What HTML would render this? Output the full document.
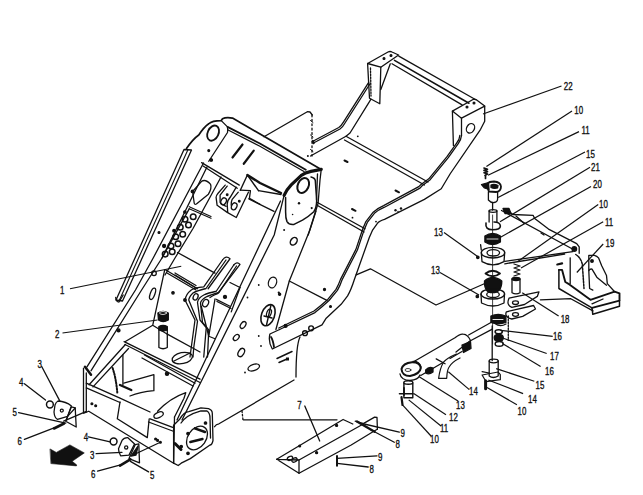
<!DOCTYPE html>
<html><head><meta charset="utf-8">
<style>
html,body{margin:0;padding:0;background:#fff;}
body{width:643px;height:495px;overflow:hidden;}
svg{display:block;}
text{font-family:"Liberation Sans",sans-serif;font-size:11px;fill:#111;}
</style></head><body>
<svg width="643" height="495" viewBox="0 0 643 495">
<g fill="none" stroke="#111" stroke-width="1.3" stroke-linejoin="round" stroke-linecap="round">

<!-- ===== UPPER FRAME (22) ===== -->
<path d="M367.6,63.5 L388,52 Q390.1,51 392,52 L398.6,55 L380.8,67.2 Z"/>
<path d="M367.6,63.5 L369.5,98.2 L379.8,103.8 L380.8,67.2"/>
<path d="M370.5,68 L371,96" stroke-dasharray="1.5 1.5"/>
<path d="M390.3,63.8 L380.8,89.5"/>
<circle cx="384" cy="58.5" r="0.9" fill="#111"/><circle cx="391" cy="55.5" r="0.9" fill="#111"/>
<path d="M398.8,56.1 L475.8,99.7 M392,63.8 L462.1,104.9"/>
<path d="M394.5,60.4 L469,103.2" stroke-width="1.6"/>
<path d="M452.4,111.1 L473,99.5 Q474.6,99 476,99.5 L484.7,106.1 L461.5,118.2 Z"/>
<path d="M452.4,111.1 L453.4,145.4 M461.5,118.2 L461.5,135.4"/>
<circle cx="467" cy="107" r="0.9" fill="#111"/><circle cx="474" cy="103" r="0.9" fill="#111"/>
<ellipse cx="470.5" cy="128.3" rx="3.8" ry="5" transform="rotate(30 470.5 128.3)" stroke-width="1.3"/>
<!-- upper frame left arm -->
<path d="M368.7,82.3 L343.6,121.8 Q341,126 338.8,127.5 L312.9,141.2"/>
<path d="M370.2,83.5 L345,123 Q342.5,127.5 340,129 L313.5,143"/>
<path d="M371,99.2 L350,133 L346,136.3 L310.5,156"/>
<path d="M312.9,141.2 L313.5,143" stroke-width="2.5"/>
<path d="M264,136.7 L307.3,111.7 L310,112 L312.3,115"/>
<path d="M312,115 L312,156" stroke-dasharray="1.8 2.6" stroke-width="1.3"/>
<!-- upper frame right arm (S) -->
<path d="M484.7,106.1 L484.7,121.2 L480.6,129.3 L450.2,173.75 L441.25,188.75 L424.4,199.4 L384.5,219.3 Q379,221 377.4,223.4 L372.4,230.4 L369.3,237.5 L354.2,280 Q351,290 347.6,295.9 L341.1,304.3 L326.2,318.2 L322,324.8 L272.3,349 Q268,342 269.9,334 L279.6,329.5"/>
<path d="M461.5,135.4 Q461,140 458.4,143.4 L448.3,157.6 L430.2,179.7 L422.1,185.8 L420,188.1 L384.5,207.2 Q378,210 374.4,213.3 L367.3,222.4 L364.3,229.4 L357.4,250 L342,280 Q340,286 337.4,290.3 L329,300.5 Q322,307 315,312.6 L279.6,329.5"/>
<path d="M459.8,135.5 Q459.5,140 456.8,142.8 L446.8,156.8 L428.8,178.8 L420.7,184.8 L418.8,186.6 L383.6,205.6 Q377,208.5 373.2,212.2 L365.9,221.6 L362.8,228.8 L355.9,249.4 L340.5,279.4 Q338.5,285 336,289.4 L327.8,299.4 Q321,305.5 314,311 L278.8,328"/>
<!-- floor -->
<path d="M346,136.3 L428,182 M344.5,140 L424.5,185"/>
<path d="M317.5,202.5 L365,228.75 M317.5,205.5 L364,232" stroke-width="1.4"/>
<path d="M344.5,160.5 l3,1.5 M395.5,190.5 l3.5,1.8 M352,209 l3.5,1.8" stroke-width="2"/>
<g fill="#111" stroke="none"><circle cx="352.5" cy="217.7" r="0.9"/><circle cx="395.5" cy="210.3" r="1.2"/><circle cx="401" cy="208.5" r="1.2"/><circle cx="398" cy="211.5" r="0.7"/><circle cx="376" cy="221.6" r="0.9"/><circle cx="357.8" cy="136.3" r="0.9"/><circle cx="307.9" cy="156" r="1"/></g>
<path d="M310.5,120.5 l2.5,2 M310.5,135 l2.5,2 M310.5,149.5 l2.5,2" stroke-width="1"/>

<!-- ===== MAIN FRAME ===== -->
<!-- left rail -->
<path d="M184,149.5 L116,300 L122.5,301 L191.5,150 Z"/>
<path d="M187.8,150 L119.2,300.5" stroke-width="1.1"/>
<circle cx="159" cy="232.5" r="0.9" fill="#111"/>
<!-- top-left boss contour -->
<path d="M186.5,148.5 Q193,139 198.75,135 Q204,127 208.75,123.75 Q212,120.6 221.25,120.6 L222.5,118.75 Q226,117 232.5,118.1 L321.25,169.4" stroke-width="1.7"/>
<ellipse cx="213.1" cy="133.1" rx="5.4" ry="8" transform="rotate(25 213.1 133.1)" stroke-width="1.8"/>
<path d="M221.25,120.6 L227.5,126.9 Q228,131 227.5,132.5 L208.75,161.25"/>
<path d="M227.5,126.9 L259.9,143.5 L305.8,169.8" stroke-width="1.8"/>
<path d="M228.1,130 L259.9,146.25 L304,171.5"/>
<path d="M232.5,157.5 L242.5,144.5 M243.75,163.75 L253.75,150.6" stroke-width="2.2"/>
<circle cx="208.75" cy="150.6" r="0.9" fill="#111"/><circle cx="211.25" cy="160" r="1.2" fill="#111"/>
<!-- right boss plate -->
<path d="M284.1,195.4 Q287,189 291.2,184.8 L301.1,175.6 Q305,172.5 311,171.4 L321.25,169.4" stroke-width="3.2"/>
<path d="M321.25,169.4 L320,180 L318.1,203.2 L308.2,235"/>
<path d="M317.5,174 L316.5,200"/>
<path d="M311,177 Q315,178 315.3,180.6 L316.7,200.4 Q316.5,208 313.8,211.7 Q308,217 302.5,220.2 L294,224.4 Q289,225 287,221.6 Q285.5,218 285.6,211.7 L285.6,197.5" stroke-width="1.5"/>
<ellipse cx="303.2" cy="185.5" rx="5.4" ry="7.8" transform="rotate(25 303.2 185.5)" stroke-width="2"/>
<g fill="#111" stroke="none"><circle cx="299" cy="203.2" r="1.2"/><circle cx="311.7" cy="208.1" r="1.1"/><circle cx="292.6" cy="214.5" r="0.8"/><circle cx="284.1" cy="230" r="1"/></g>

<!-- right plate edges -->
<path d="M280.5,201 L177,420 M284.1,195.4 L274.2,235 L182,420"/>
<path d="M316,211 L309.9,230 L289.3,281 L275.9,329.5"/>
<!-- left plate -->
<path d="M203.5,163 L153.2,258 L135.5,290 L87.1,366.7 M207,167 L162,258 L141.6,290 L91.1,370.7"/>
<!-- cross member under top plate -->
<path d="M201.6,162.6 L239.3,185.1 M203.1,166 L237.3,188.2"/>
<!-- perforated plate -->
<path d="M221,177 L193,228.5 L175,258 L165,275 M189.2,208.9 L162,258"/>
<g stroke-width="1.5">
<circle cx="193.2" cy="216.8" r="2.8"/><circle cx="188.5" cy="225" r="2.8"/><circle cx="182.7" cy="234.3" r="2.8"/><circle cx="178" cy="243.7" r="2.8"/><circle cx="172.2" cy="251.8" r="2.8"/><circle cx="185" cy="219.2" r="2.8"/><circle cx="180.3" cy="227.3" r="2.8"/><circle cx="175.7" cy="236.7" r="2.8"/><circle cx="171" cy="246" r="2.8"/><circle cx="165.2" cy="254.1" r="2.8"/>
</g>
<circle cx="184.9" cy="212" r="1.2" fill="#111"/><circle cx="174" cy="230.7" r="1.2" fill="#111"/><circle cx="164.1" cy="246" r="1.5" fill="#111"/><circle cx="211" cy="159.8" r="1" fill="#111"/>
<!-- kidney bracket -->
<path d="M192.6,191.5 L201.8,181.1 Q206,179 210.6,184.4 Q212,188 208.4,194.2 L196.4,204 Q194.5,205 194.2,203 Z"/>
<path d="M258.5,190.7 L281,194.5"/>
<circle cx="192.5" cy="191.4" r="1.3" fill="#111"/>
<path d="M189.2,206.7 L211,216.5 M189.2,208.7 L211,218.3" stroke-width="1.2"/>
<!-- clevis ears -->
<path d="M225.2,185.1 L218.1,193.2 Q216,196 216.1,197.3 L217.1,205.3 L227.2,212.4 L236.3,217.5 L248.4,192.2"/>
<path d="M227.2,186.1 L220.1,195.2 L220.1,202.3 Q222,205 226.2,206.3"/>
<path d="M236.3,187.2 L230.2,197.3 Q227,201 227.2,204.3 L227.7,212.4"/>
<path d="M238.3,192.2 L232.2,199.3 Q231,202 231.2,205.3"/>
<ellipse cx="223.6" cy="201.3" rx="2.6" ry="3.6" transform="rotate(25 223.6 201.3)"/>
<ellipse cx="234.2" cy="206.3" rx="2.6" ry="3.6" transform="rotate(25 234.2 206.3)"/>
<circle cx="227.2" cy="194.7" r="0.8" fill="#111"/><circle cx="239.3" cy="201.3" r="0.8" fill="#111"/>
<path d="M240.3,190.2 L250.4,190.7"/>
<!-- wedge -->
<path d="M240.3,190.2 L247.4,175 L258.5,190.7" stroke-width="1.4"/>
<path d="M247.4,175 L260,183 L281,193" stroke-width="2.4"/>
<path d="M250.4,191.2 L249.4,198.3 L260,204.3"/>
<path d="M248.8,198.8 L274,211.4"/>
<!-- cross beam inside -->
<path d="M165.4,269.8 L196.5,288.2 M167,273 L196,290"/>
<circle cx="154" cy="273.3" r="2.3"/>
<!-- fork arms -->
<path d="M222.5,260 Q226,255 230,258.75 L208.1,288.75"/>
<path d="M222.5,260 L203.75,286.9 Q194,288 191.25,290 Q186,294 185,300 L195,320 L191.25,347.5 L190,357"/>
<path d="M226,260 L206,288.5 Q196,291 193,293 Q189,297 188.75,300 L197.5,321.25 L193.75,347.5 L193,357"/>
<path d="M233.75,265 Q237,261 240,264.4 L217.5,293.75 Q212,296 210,297.5"/>
<path d="M233.75,265 L216.25,291.25 Q208,293 203.75,295 Q198,298 197.5,302.5 L200,320 L206.25,327.5 L203.75,357"/>
<path d="M236.5,266 L219,292.5 Q210,295 206,297 Q201,300 200.5,303 L202.5,322.5 L208.75,330 L207.5,357"/>
<ellipse cx="195.6" cy="296.9" rx="2.3" ry="3.3" transform="rotate(25 195.6 296.9)"/>
<ellipse cx="205.6" cy="303.1" rx="2.8" ry="3.8" transform="rotate(25 205.6 303.1)"/>
<path d="M215,299 L208.75,336.25 L215,338.75 M201.25,306.25 L208.75,336.25"/>
<path d="M177.5,252.5 L215,273.1 M230,282.5 L240,287.5 M175,275 L197.5,288.75 M175,273 L196,285.5"/>
<path d="M216.25,299.4 L230,306.25 M217,301.5 L231,308.5" stroke-width="1.3"/>
<path d="M240,287.5 L231.25,311.9"/>
<circle cx="225" cy="296.9" r="1.5" fill="#111"/><circle cx="185" cy="300" r="1.3" fill="#111"/>
<ellipse cx="243.1" cy="325" rx="2.3" ry="3.8" transform="rotate(35 243.1 325)"/>
<ellipse cx="236.25" cy="337.5" rx="2.3" ry="3.5" transform="rotate(45 236.25 337.5)"/>
<ellipse cx="241.25" cy="352.5" rx="2.8" ry="4.5" transform="rotate(30 241.25 352.5)"/>
<!-- holes on right plate -->
<ellipse cx="293.75" cy="241.25" rx="3" ry="4.2" transform="rotate(35 293.75 241.25)" stroke-width="1.5"/>
<ellipse cx="272.5" cy="282.5" rx="4" ry="5.5" transform="rotate(20 272.5 282.5)"/>
<ellipse cx="268" cy="315.2" rx="6.5" ry="11" transform="rotate(20 268 315.2)" stroke-width="1.6"/>
<path d="M271,305 L266.5,325 M264,316 L272,318" stroke-width="1.4"/>
<ellipse cx="269" cy="313" rx="2.2" ry="4" transform="rotate(20 269 313)" stroke-width="1.2"/>
<ellipse cx="253.75" cy="367.5" rx="6" ry="3" transform="rotate(-20 253.75 367.5)"/>
<!-- bracket bar -->
<path d="M300,337 Q296,345 296,377"/>
<path d="M277,358.5 L292,351.5 M279,362.5 L287,359" stroke-width="1.5"/>
<rect x="286" y="357.5" width="3" height="3" fill="#111" stroke="none"/>
<g fill="#111" stroke="none"><circle cx="258.75" cy="285" r="0.9"/><circle cx="247.5" cy="297.5" r="0.9"/><circle cx="258.75" cy="336" r="0.9"/><circle cx="261" cy="346" r="0.9"/><circle cx="245" cy="372.5" r="0.9"/><circle cx="278.75" cy="292.5" r="1.1"/></g>
<circle cx="305" cy="333.2" r="2.4" stroke-width="1.4"/><circle cx="311.1" cy="328.3" r="2.4" stroke-width="1.4"/>
<path d="M271,337 Q273,340 274,347" stroke-width="1.8"/>
<path d="M289.3,281 L326.9,300.4"/>
<circle cx="324.5" cy="289.5" r="1" fill="#111"/><circle cx="279.6" cy="294.3" r="1.1" fill="#111"/><circle cx="285.6" cy="325.9" r="1.4" fill="#111"/><circle cx="330.5" cy="306.5" r="0.9" fill="#111"/>

<!-- lower box -->
<path d="M115.7,297.5 Q116,302 119,302 L123.2,295"/>
<circle cx="118.5" cy="330.4" r="1.5" fill="#111"/>
<path d="M125.4,344.5 L89.1,384.8 M128.5,348.5 L93,386.9"/>
<path d="M85,366.7 L91,374.7" stroke-width="2.5"/>
<path d="M164.7,269.8 L152.7,325.3 L125.4,341.5 M152.7,325.3 L167,334"/>
<!-- part 2 -->
<path d="M157.9,313 L158.5,320 Q163,323 168.3,320 L168.3,313 Q163,310 157.9,313 Z" fill="#111"/>
<ellipse cx="163" cy="313" rx="3.5" ry="1.5" stroke="#fff" stroke-width="0.8"/>
<path d="M158.9,328 L158.9,347.5 Q163,350 167.3,347.5 L167.3,328" />
<path d="M158.9,326.6 Q163,324 167.3,326.6 L167.3,330 Q163,332 158.9,330 Z" fill="#111"/>
<!-- platform -->
<path d="M124.1,341.6 L200,379.2 M125,344.5 L200,382.5"/>
<path d="M167.3,334.1 L200,352"/>
<ellipse cx="182.3" cy="358.1" rx="10.3" ry="5.5" transform="rotate(-12 182.3 358.1)"/>
<path d="M174,361 L190,353"/>
<circle cx="167" cy="373.8" r="1.6" fill="#111"/><circle cx="173" cy="292.8" r="1.2" fill="#111"/>
<ellipse cx="152.6" cy="293.8" rx="2.3" ry="6" transform="rotate(20 152.6 293.8)"/>
<!-- box -->
<path d="M83.5,368.1 L83.5,413.2 M86.3,373 L86.3,412"/>
<path d="M86.3,383.2 L120,398.2 L150,412 M86.3,387.9 L120,402.5"/>
<path d="M150.1,418.8 L172.7,427.3 M148.5,422 L172.7,431"/>
<path d="M120,402 L117.3,418.8 L147.3,437.6 L149.2,418.8"/>
<path d="M84.4,413 L88.75,411.25 L173.6,463.2"/>
<path d="M122.9,355 L122.9,385"/>
<path d="M112.6,368 Q116,378 117.3,392.6" stroke-dasharray="1.6 1.4" stroke-width="2"/>
<path d="M123.8,383.2 L153.9,374.7 L153.9,390.7 Q140,392 130,396"/>
<path d="M120,385 L131.3,390" stroke-width="2.4"/>
<path d="M157.6,411.3 Q170,398 185.8,392.6 L184,398.2 L174.5,417"/>
<ellipse cx="158.6" cy="415" rx="5" ry="2.6" transform="rotate(-25 158.6 415)"/>
<path d="M144.5,355 L195,383.2 M142,358 L193,386"/>
<path d="M174.5,417 L173.6,463"/>
<circle cx="91.9" cy="403.8" r="0.9" fill="#111"/><circle cx="95.7" cy="405.7" r="0.9" fill="#111"/>
<circle cx="157.6" cy="440.4" r="0.9" fill="#111"/><circle cx="160.4" cy="442.3" r="0.9" fill="#111"/>
<!-- rear boss plate -->
<path d="M179.7,419.2 Q184,412 188.8,411.7 L200.9,407.9 L208.5,408.6 Q212.3,410 212.3,413.2 L213,440.5 Q212,445 210,445 L190.3,458.6 L181.2,463.2 L178.2,465.5 L173.6,463.2 L173.6,425.3 Z" stroke-width="1.3"/>
<path d="M181,423 Q186,415 200.9,410.8 L207,411 Q210,413 210,418 L210.5,438"/>
<ellipse cx="197" cy="438" rx="9" ry="13" transform="rotate(35 197 438)"/>
<path d="M194.8,428.3 L205,432 M190.3,442 L202.5,439" stroke-width="2.4"/>
<circle cx="205.5" cy="423" r="1.2" fill="#111"/><circle cx="188" cy="433.6" r="1.2" fill="#111"/><circle cx="181.2" cy="446.5" r="1.2" fill="#111"/><circle cx="188" cy="453.3" r="1.2" fill="#111"/>
<path d="M175,443.5 L181,449.5" stroke-width="3"/>
<path d="M214.5,426.8 Q216,424 219,423.8 L294,380"/>
<path d="M242,411 L243,420" stroke-dasharray="1.5 2"/>
<path d="M243.3,419.8 L337,419.8"/>
</g>

<!-- ===== PARTS ===== -->
<g fill="none" stroke="#111" stroke-width="1.3" stroke-linejoin="round" stroke-linecap="round">
<!-- part 7 plate -->
<path d="M276.7,459.3 L343.1,419.5 L352.8,424 M355.2,421.2 L363.3,423.6 L374.6,417.1 L377,417.5 L377.4,429.2"/>
<path d="M299,460 L363.3,424"/>
<path d="M299,473.3 L351.2,445 L374.6,430.8 L377.4,429.2"/>
<path d="M276.7,459.3 L299,473.3 L299,460 L276.7,459.3"/>
<ellipse cx="290" cy="458.3" rx="2.8" ry="1.9" transform="rotate(-25 290 458.3)"/><ellipse cx="294.5" cy="460" rx="2.8" ry="1.9" transform="rotate(-25 294.5 460)"/>
<circle cx="299.7" cy="446" r="0.9" fill="#111"/><circle cx="316.6" cy="452.7" r="1" fill="#111"/><circle cx="336.6" cy="425.4" r="1" fill="#111"/>
<path d="M304.8,406 L319.7,441"/>
<path d="M337,455.9 L337,465.8" stroke-width="2"/>
<path d="M399.3,432.2 L362,423.5 M394.3,442.2 L370.7,429.75 M377,455.9 L337,458.4 M368.2,467 L337,463.3"/>
<path d="M357,421.5 L374.6,431.7" stroke-width="2.4"/>

<!-- left small parts -->
<circle cx="49.9" cy="404.5" r="3.4" stroke-width="1.5"/>
<path d="M58,401 Q56,402 55,405 L54,412 Q54.5,418 57.5,419.3 L67.6,416.4 L71.4,405.9 Q66,401.5 58,401 Z" stroke-width="1.3"/>
<path d="M71.4,406.8 L75.2,407.8 L76.2,427 L65.7,421.2 Z" stroke-width="1.3"/>
<path d="M75.2,408 L67.6,416.4 L66.5,420" />
<circle cx="61.8" cy="410.6" r="1.5"/>
<path d="M41.7,366.5 L59.9,401.1 M24.4,383.8 L45.5,400.1 M18.6,412.6 L65.7,423.1 M24.4,439.4 L54.1,427.9 M63.7,421.2 L85.8,411.6"/>
<path d="M54,428.5 L64,423.5" stroke-width="2.6"/>
<circle cx="113.6" cy="441.5" r="3.4" stroke-width="1.5"/>
<path d="M122,440.4 Q124,437.5 127.6,437.6 L134.6,443.9 L129,455.1 L120.6,455.8 Q118.5,452 118.5,448.8 Z" stroke-width="1.3"/>
<path d="M135.3,444.6 L138.8,443.9 L139.5,462.8 L129,458.6 Z" stroke-width="1.3"/>
<path d="M138,446 L131,456 L136,455 Z" fill="#111"/>
<circle cx="126.2" cy="447.4" r="1.6"/>
<path d="M88.4,436.9 L110.1,441.8 M96.1,453.7 L122,452.3 M97.5,471.2 L120.6,464.9 M148.6,471.9 L130.4,461.4 M137.4,453 L159.8,442.5"/>
<path d="M120,465.6 L130.4,459.3" stroke-width="2.6"/>
<circle cx="155.6" cy="439" r="0.9" fill="#111"/>
<!-- arrow -->
<path d="M50.3,449.1 L56.3,452.4 L69.9,444.9 L84.3,452.9 L72.2,461.3 L76.8,465 L76.4,465.9 L51.2,463.6 Z" fill="#111" stroke="#111" stroke-width="0.6"/>

<!-- cylinder 14 -->
<path d="M414.4,361.3 L455,337.7 Q460,333.5 463.2,334.1 Q468,334.5 470.5,340.5 L456,352"/>
<path d="M443,362.5 L420.8,375.5 M450,358.5 L462,351.5"/>
<path d="M468.6,335 L491.4,322.3 M470.9,340.5 L492.3,329.1"/>
<path d="M401.5,369 Q403,363 412,362.2 Q420,362 420.8,368 Q420,374 410,376 Q402,376 401.5,369 Z" stroke-width="2"/>
<ellipse cx="408" cy="370" rx="3" ry="1.5" fill="#fff" stroke-width="0.8"/>
<path d="M400,374 Q401,380 410,380.5 Q418,380 420,375"/>
<path d="M413,361.5 Q419,361 421,367" stroke-width="1.3"/>
<path d="M456.4,354 Q447,358 443.5,362.2 Q440,368 438.6,378.3 L446.7,378.3 Q447,370 449.1,367 Q452,362 460,358" stroke-width="1.2"/>
<path d="M462,345 L470.5,341.5 L471,348.5 L463.5,352.5 Z" fill="#111"/>
<path d="M425.7,370 Q429,366 433,368 L433,372 Q429,375 425.7,373 Z" fill="#111"/>
<path d="M436.2,358.9 L445.1,363.8"/>
<path d="M403.9,383 L403.9,397.7 L412.8,397.7 L412.8,383" stroke-width="1.4"/>
<ellipse cx="408.3" cy="382.5" rx="4.5" ry="1.8" stroke-width="1.4"/>
<path d="M404,388 L404,395" stroke-width="1.8"/>
<path d="M399.5,393.75 L413,393.75" stroke-width="1.6"/>
<path d="M401.5,397 L402.5,405" stroke-width="2.2"/>
<!-- part 15/14/10 lower right -->
<path d="M492.2,326 L492.2,360.5"/>
<path d="M489.2,361 L489.2,376 Q493,379 498.2,376 L498.2,361" stroke-width="1.3"/>
<ellipse cx="493.7" cy="361" rx="4.5" ry="1.8" stroke-width="1.3"/>
<path d="M482.1,371.6 L489.2,373 M498.2,372 L500.3,374.7 L500.3,379.7 L486.1,381.7 L482.1,375 Z" stroke-width="1.2"/>
<path d="M485.6,380.7 L485.6,388.8" stroke-width="3"/>
<!-- part stack -->
<path d="M484,168 l3.5,1.2 l-3.5,1.2 l3.5,1.2 l-3.5,1.2 l3.5,1.2 l-2.5,1.5 M485.5,176 l0,2.5" stroke-width="1.7"/>
<path d="M488,183.5 Q489,181.5 494,181.5 Q500.5,182 501,186.5 Q501,191.5 496,192 L489,191.5 Q487.5,189 488,183.5 Z" stroke-width="1.8"/>
<path d="M481.5,184.5 L488.5,182.5 L489,189.5 L484.5,188 Z" fill="#111"/>
<path d="M491,185 Q494,183.5 498,185.5 L497.5,188 Q494,189 491,187.5 Z" fill="#111"/>
<path d="M488.4,191.8 L488.4,200 Q491,203 494,202.5 Q497.6,202 497.6,199 L497.6,192"/>
<path d="M492.6,202.5 L492.6,210"/>
<path d="M489.1,211 L489.1,222 M496.9,211 L496.9,222"/>
<ellipse cx="493" cy="211" rx="3.9" ry="1.3"/>
<path d="M492.6,215 L492.6,344" stroke-width="0.8"/>
<path d="M486,223 Q484.9,229.8 492.6,229.8 Q500.4,229.8 500.4,226 Q500,222 494,222" stroke-width="1.6"/>
<path d="M484.9,236 L484.9,242 Q492.6,247 500.4,242 L500.4,236 Q492.6,231 484.9,236 Z" fill="#111"/>
<path d="M487,239 L498,239" stroke="#fff" stroke-width="0.8"/>
<ellipse cx="493" cy="252.7" rx="11.7" ry="5.3" stroke-width="1.3"/>
<ellipse cx="493.3" cy="252.8" rx="6.3" ry="3.2"/>
<path d="M481.3,252.7 L482,261.6 Q493,268 504,261.6 L504.7,252.7"/>
<path d="M480.6,244.6 L481.3,250"/>
<circle cx="477.8" cy="257.3" r="1.2" fill="#111"/>
<path d="M485.5,273.5 Q492.6,268 500,273.5 Q492.6,279 485.5,273.5 Z" stroke-width="1.8"/>
<path d="M484.5,281 Q484,292.7 492.6,292.7 Q501.8,292.7 501.8,281 Q492.6,274 484.5,281 Z" fill="#111"/>
<ellipse cx="492.8" cy="294" rx="11.8" ry="5" stroke-width="1.3"/>
<ellipse cx="493" cy="294.5" rx="6.3" ry="3"/>
<path d="M481,294 L481.5,303 Q493,309 504,303 L504.5,294"/>
<circle cx="477.3" cy="296.4" r="1.2" fill="#111"/>
<path d="M490.9,316 Q498,313 505.9,316 L505.9,322.5 Q498,325 490.9,322.5 Z" fill="#111"/>
<path d="M495,323.5 Q500,327.5 506,324" />
<path d="M493,319.5 L503,319.5" stroke="#fff" stroke-width="0.9"/>
<ellipse cx="498.7" cy="331.8" rx="3.6" ry="2" stroke-width="1.5"/>
<path d="M494.2,337.8 Q494.2,334.3 498.7,334.3 Q503.3,334.3 503.3,337.8 Q503.3,341.4 498.7,341.4 Q494.2,341.4 494.2,337.8 Z" fill="#111"/>
<ellipse cx="499.2" cy="343.9" rx="4" ry="2.3" stroke-width="1.5"/>
<path d="M508.3,316 L508.3,340.4" stroke-dasharray="1.5 1.5"/>
<!-- arm 18 -->
<path d="M503,208.5 L509,208.5 L511,213.5 L505,213.5 Z" fill="#111"/>
<path d="M506.5,209.7 L512.9,214.5 L533.1,215.3 L534.7,218.6 L548.5,229.1 L576.7,243.6 L579.2,246.8 L579.2,253.3"/>
<path d="M501.5,210.5 L574.3,250"/>
<path d="M516,216 L524.2,223.4 M541,233 l3,2"/>
<!-- link bar -->
<path d="M504.8,261.4 L572.7,251.7 M504.8,263.8 L564.6,254.1"/>
<circle cx="574.3" cy="249" r="2.3" fill="#111"/>
<!-- pin with spring -->
<path d="M514,264 l6,2 l-6,2 l6,2 l-6,2 l6,2 l-6,2" />
<path d="M512,279 L512,292.7 Q516,295 520,292.7 L520,279"/>
<ellipse cx="516" cy="279" rx="4" ry="1.5" fill="#111"/>
<path d="M509,298.2 L539,291.8 L537.3,296.4 L524.5,304.5 L511.8,307.3 Q506,305 509,298.2 Z"/>
<ellipse cx="515.5" cy="302.7" rx="3" ry="1.8"/>
<path d="M506.4,311.8 L533.6,305.5 L535.5,309 L522.7,316.4 L511.8,319 Q504,317 506.4,311.8 Z"/>
<ellipse cx="515.5" cy="314.5" rx="3" ry="1.8"/>
<path d="M540.4,299.8 L570.8,298.7 L593,310.9"/>
<!-- part 19 bracket -->
<path d="M570.2,257.8 L570.2,283.6"/>
<path d="M575.8,254.5 Q581,258 582.3,264.2 L584,288.5" stroke-dasharray="2 1.2" stroke-width="1.5"/>
<path d="M558.9,269.9 L558.9,288.5 L571,295.7 L592,307.9 L592.8,314.3 L619.5,306.2 L619.5,300.6" stroke-width="1.5"/>
<path d="M558.9,269.9 L562.1,269.9 L565.3,282 L569.4,284.4 L590.4,299.8 L614.6,291.7 L619.5,293.3 L619.5,300.6 L592,307.9" stroke-width="1.9"/>
<path d="M588.8,270.7 L588.8,255.3 L594.4,255.3 Q597,256 598.5,257.8 L601.7,265.8 L606.5,275.5 L607.3,283.6 L614.6,291.7" stroke-width="1.3"/>
<path d="M588.8,270.7 Q590,268.5 592,269.1 L596.8,277.2 L606.5,285.2 M588.8,270.7 L589.6,288.5 L592.8,290.1"/>
<path d="M592,303.8 L603,299"/>
<circle cx="592" cy="261" r="1.3" fill="#111"/>
<path d="M557.3,264.5 L562.1,263.4" stroke-width="2.2"/>
<!-- background V line -->
<path d="M356.2,274.8 L370.4,268.8 L436,305 L486,283"/>
</g>

<!-- leaders -->
<g stroke="#111" stroke-width="1.2" fill="none">
<path d="M561.5,86 L483,114"/>
<path d="M572,111 L486.4,166.6"/>
<path d="M579,131.6 L488,175.3"/>
<path d="M585,152 L498.1,197.5"/>
<path d="M590,167.2 L500,221.8"/>
<path d="M591,186.4 L500.5,237.2"/>
<path d="M598.2,204.6 L517.8,261.4"/>
<path d="M603.2,221.8 L521,267.9"/>
<path d="M603.2,244 L576.8,272.5"/>
<path d="M558.6,316 L522.2,292.7"/>
<path d="M552.7,336.3 L500.3,330.3"/>
<path d="M546.7,353.5 L503.3,338.3"/>
<path d="M540.6,366.6 L502.3,343.4"/>
<path d="M534.3,381.2 L496.2,368.6"/>
<path d="M523.1,393.6 L488.3,380"/>
<path d="M516.9,404.8 L487,387.4"/>
<path d="M469.3,389.6 L448.3,371.8"/>
<path d="M458,400.9 L419.2,376.7"/>
<path d="M446,414.8 L413.7,393.6"/>
<path d="M441,426 L408.7,399.9"/>
<path d="M431,436 L402.5,404.8"/>
<path d="M444,232.5 L479,257.5"/>
<path d="M440,272.5 L479,295"/>
<path d="M70,288.75 L181.25,266.25"/>
<path d="M62.5,333 L157.5,320"/>
</g>

<!-- labels -->
<g font-family="Liberation Sans, sans-serif" font-size="11.5" fill="#111" stroke="#111" stroke-width="0.35">
<text transform="translate(563.8,90.1) scale(0.72,1)">22</text>
<text transform="translate(574.3,113.7) scale(0.72,1)">10</text>
<text transform="translate(581.5,134) scale(0.72,1)">11</text>
<text transform="translate(586,157.5) scale(0.72,1)">15</text>
<text transform="translate(591,171) scale(0.72,1)">21</text>
<text transform="translate(593,188) scale(0.72,1)">20</text>
<text transform="translate(599,207.6) scale(0.72,1)">10</text>
<text transform="translate(605,225.8) scale(0.72,1)">11</text>
<text transform="translate(605.5,247) scale(0.72,1)">19</text>
<text transform="translate(560.7,323) scale(0.72,1)">18</text>
<text transform="translate(553,340) scale(0.72,1)">16</text>
<text transform="translate(550,360) scale(0.72,1)">17</text>
<text transform="translate(545,374.5) scale(0.72,1)">16</text>
<text transform="translate(535.5,389) scale(0.72,1)">15</text>
<text transform="translate(528,402.5) scale(0.72,1)">14</text>
<text transform="translate(517.5,414.5) scale(0.72,1)">10</text>
<text transform="translate(469,395) scale(0.72,1)">14</text>
<text transform="translate(456,409) scale(0.72,1)">13</text>
<text transform="translate(449,420.5) scale(0.72,1)">12</text>
<text transform="translate(440,432) scale(0.72,1)">11</text>
<text transform="translate(430,443) scale(0.72,1)">10</text>
<text transform="translate(400.5,437.2) scale(0.72,1)">9</text>
<text transform="translate(395.6,448.4) scale(0.72,1)">8</text>
<text transform="translate(378,461) scale(0.72,1)">9</text>
<text transform="translate(369.5,473.3) scale(0.72,1)">8</text>
<text transform="translate(297.3,408.6) scale(0.72,1)">7</text>
<text transform="translate(434,235.5) scale(0.72,1)">13</text>
<text transform="translate(431,274) scale(0.72,1)">13</text>
<text transform="translate(60,294) scale(0.72,1)">1</text>
<text transform="translate(55,337.5) scale(0.72,1)">2</text>
<text transform="translate(37.5,367.5) scale(0.72,1)">3</text>
<text transform="translate(19,386) scale(0.72,1)">4</text>
<text transform="translate(12.5,415.5) scale(0.72,1)">5</text>
<text transform="translate(17.5,445) scale(0.72,1)">6</text>
<text transform="translate(83.75,441) scale(0.72,1)">4</text>
<text transform="translate(90,458.75) scale(0.72,1)">3</text>
<text transform="translate(91,477.5) scale(0.72,1)">6</text>
<text transform="translate(150,479) scale(0.72,1)">5</text>
</g>
</svg>
</body></html>
